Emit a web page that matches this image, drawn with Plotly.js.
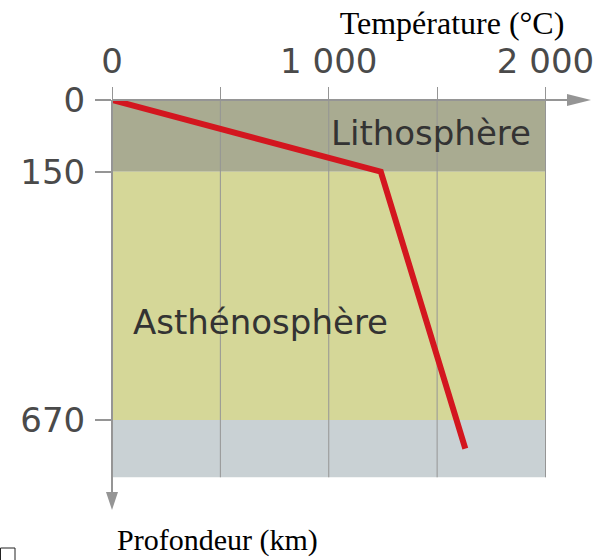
<!DOCTYPE html>
<html>
<head>
<meta charset="utf-8">
<script src="https://cdn.plot.ly/plotly-3.0.1.min.js"></script>
<style>html,body{margin:0;padding:0;background:#fff;}#chart{width:608px;height:560px;}</style>
</head>
<body>
<div id="chart"></div>
<script>
// ---- data ----
const tempC = [0, 1240, 1630];          // température (°C)
const depthKm = [0, 150, 730];          // profondeur (km)
const layerNames = ['Lithosphère', 'Asthénosphère', ''];
const layerTops = [0, 150, 670];
const layerBottoms = [150, 670, 790];
const xGridVals = [500, 1000, 1500, 2000];
const xTickVals = [0, 500, 1000, 1500, 2000];
const xTickText = ['0', '', '1 000', '', '2 000'];
const yTickVals = [0, 150, 670];
const yTickText = ['0', '150', '670'];

// ---- styling ----
const W = 608, H = 560;
const M = {l: 112, r: 10, t: 100, b: 48};
const pw = W - M.l - M.r, ph = H - M.t - M.b;
const xMax = pw / 0.21675;   // px per °C
const yMax = ph / 0.4776;    // px per km
const layerColors = ['#a9ab91', '#d5d798', '#c9d1d4'];
const axisGray = '#959595';
const sans = 'DejaVu Sans, sans-serif';
const tickFont = {family: sans, size: 34, color: '#4a4a4a'};
const labelFont = {family: sans, size: 34, color: '#333'};
const titleFont = {family: 'Liberation Serif, Times New Roman, serif', size: 32, color: '#000'};
const bottomFont = {family: 'Liberation Serif, Times New Roman, serif', size: 30, color: '#000'};

const px = v => v / pw; // pixel -> paper x
const py = v => v / ph; // pixel -> paper y

const shapes = [];
layerNames.forEach((n, i) => {
  shapes.push({type: 'rect', xref: 'x', yref: 'y', x0: 0, x1: 2000, y0: layerTops[i], y1: layerBottoms[i],
    fillcolor: layerColors[i], line: {width: 0}, layer: 'below'});
});
xGridVals.forEach(v => {
  shapes.push({type: 'line', xref: 'x', yref: 'y', x0: v, x1: v, y0: 0, y1: layerBottoms[layerBottoms.length - 1],
    line: {color: axisGray, width: 1}, layer: 'below'});
});
// horizontal axis line + arrow
shapes.push({type: 'line', xref: 'paper', yref: 'paper', x0: 0, x1: px(458), y0: 1, y1: 1, line: {color: axisGray, width: 2}});
shapes.push({type: 'path', xref: 'paper', yref: 'paper',
  path: `M ${px(455)} ${1 + py(6)} L ${px(479)} 1 L ${px(455)} ${1 - py(6)} Z`,
  fillcolor: axisGray, line: {width: 0}});
// vertical axis line + arrow
shapes.push({type: 'line', xref: 'paper', yref: 'paper', x0: 0, x1: 0, y0: 1, y1: py(16), line: {color: axisGray, width: 2}});
shapes.push({type: 'path', xref: 'paper', yref: 'paper',
  path: `M ${px(-6)} ${py(20)} L 0 ${py(2)} L ${px(6)} ${py(20)} Z`,
  fillcolor: axisGray, line: {width: 0}});
// small box at bottom-left corner
shapes.push({type: 'rect', xref: 'paper', yref: 'paper', x0: px(-M.l + 0.5), x1: px(-M.l + 15), y0: py(-M.b - 6), y1: py(-M.b + 12),
  line: {color: '#222', width: 1}, fillcolor: 'rgba(0,0,0,0)'});

const annotations = [
  {text: layerNames[0], x: 1472, y: 69, xref: 'x', yref: 'y', showarrow: false, font: labelFont, xanchor: 'center', yanchor: 'middle'},
  {text: layerNames[1], x: 683, y: 465, xref: 'x', yref: 'y', showarrow: false, font: labelFont, xanchor: 'center', yanchor: 'middle'},
  {text: 'Profondeur (km)', xref: 'paper', yref: 'paper', x: (217 - M.l) / pw, y: -(540 - (M.t + ph)) / ph,
   showarrow: false, font: bottomFont, xanchor: 'center', yanchor: 'middle'}
];

const trace = {
  x: tempC, y: depthKm, type: 'scatter', mode: 'lines',
  line: {color: '#d3161f', width: 6}, hoverinfo: 'skip', cliponaxis: false
};

const layout = {
  width: W, height: H, margin: M,
  paper_bgcolor: '#fff', plot_bgcolor: 'rgba(0,0,0,0)',
  showlegend: false,
  title: {text: 'Température (°C)', font: titleFont, x: 452 / W, xanchor: 'center', xref: 'container',
          y: 1 - 23 / H, yref: 'container', yanchor: 'middle'},
  xaxis: {range: [0, xMax], side: 'top', tickmode: 'array', tickvals: xTickVals, ticktext: xTickText,
          ticks: 'outside', ticklen: 12, tickwidth: 1, tickcolor: axisGray, tickfont: tickFont,
          showgrid: false, zeroline: false, showline: false, fixedrange: true},
  yaxis: {range: [yMax, 0], tickmode: 'array', tickvals: yTickVals, ticktext: yTickText,
          ticks: 'outside', ticklen: 16, tickwidth: 2, tickcolor: axisGray, tickfont: tickFont,
          ticklabelstandoff: 3,
          showgrid: false, zeroline: false, showline: false, fixedrange: true},
  shapes: shapes, annotations: annotations
};

Plotly.newPlot('chart', [trace], layout, {displayModeBar: false, staticPlot: true});
</script>
</body>
</html>
